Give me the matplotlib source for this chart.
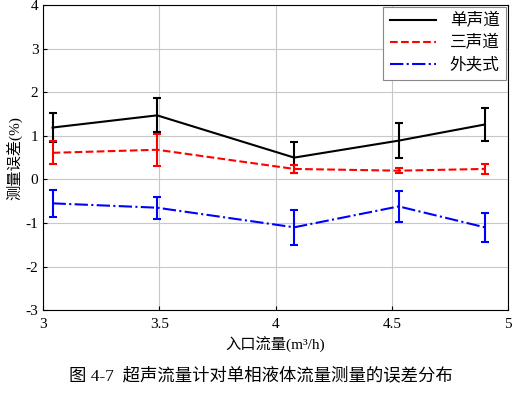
import matplotlib
matplotlib.use("Agg")
import matplotlib.pyplot as plt

# 入口流量
flow = [3.04, 3.49, 4.08, 4.53, 4.90]

# 测量误差 (%) 及误差棒
single = [1.19, 1.47, 0.50, 0.89, 1.26]
single_err = [0.33, 0.39, 0.35, 0.40, 0.38]
triple = [0.61, 0.68, 0.24, 0.20, 0.24]
triple_err = [0.26, 0.37, 0.10, 0.05, 0.12]
clamp = [-0.55, -0.65, -1.10, -0.62, -1.10]
clamp_err = [0.31, 0.25, 0.40, 0.35, 0.33]

labels = ["单声道", "三声道", "外夹式"]
fam = ["Liberation Serif", "Noto Sans CJK SC"]
plt.rcParams["font.family"] = fam
plt.rcParams["axes.unicode_minus"] = False

fig = plt.figure(figsize=(5.21, 3.96), dpi=100)
ax = fig.add_axes([0.083, 0.217, 0.892, 0.77])

styles = [("black", "-"), ("#ff0000", "--"), ("#0000ff", "-.")]
handles = []
for y, e, (c, ls), lab in zip([single, triple, clamp],
                              [single_err, triple_err, clamp_err],
                              styles, labels):
    eb = ax.errorbar(flow, y, yerr=e, color=c, ls=ls, lw=1.5,
                     capsize=3, capthick=1.5, elinewidth=1.5, label=lab)
    handles.append(eb.lines[0])

ax.set_xlim(3, 5)
ax.set_ylim(-3, 4)
ax.set_xticks([3, 3.5, 4, 4.5, 5])
ax.set_xticklabels(["3", "3.5", "4", "4.5", "5"])
ax.set_yticks(range(-3, 5))
ax.grid(True, color="#c8c8c8", lw=0.8)
ax.set_axisbelow(True)
ax.tick_params(direction="in", length=3, labelsize=11)
ax.tick_params(axis="x", pad=6)

ax.set_xlabel("入口流量(m³/h)", fontsize=11, labelpad=3)
ax.set_ylabel("测量误差(%)", fontsize=11, labelpad=2)

leg = ax.legend(handles, labels, loc="upper right", fontsize=12, fancybox=False,
                framealpha=1, edgecolor="#888888", handlelength=2.8,
                borderaxespad=0.1, labelspacing=0.35)
leg.get_frame().set_linewidth(0.8)

fig.text(0.5, 0.05, "图 4-7  超声流量计对单相液体流量测量的误差分布",
         ha="center", va="center", fontsize=12.5)

fig.savefig("out.png", dpi=100)
